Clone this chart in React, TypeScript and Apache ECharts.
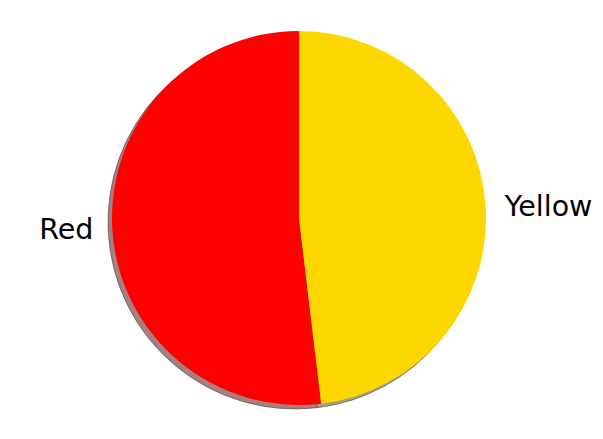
import React, { useEffect, useRef } from "react";
import * as echarts from "echarts";

const categories = ["Red", "Yellow"];
const values = [51.9, 48.1];
const colors = ["#ff0000", "#ffd700"];
const shadowColors = ["#a68080", "#a6a080"];

export default function App() {
  const ref = useRef<HTMLDivElement>(null);
  useEffect(() => {
    if (!ref.current) return;
    const chart = echarts.init(ref.current, undefined, { renderer: "svg" });
    const cx = 299;
    const cy = 218;
    const r = 187;
    const data = categories.map((name, i) => ({ name, value: values[i] }));
    chart.setOption({
      animation: false,
      backgroundColor: "#ffffff",
      series: [
        {
          type: "pie",
          silent: true,
          center: [cx - 4, cy + 4],
          radius: [0, r],
          startAngle: 90,
          clockwise: false,
          label: { show: false },
          labelLine: { show: false },
          data: data.map((d, i) => ({
            ...d,
            itemStyle: { color: shadowColors[i], borderColor: "rgba(90,60,60,0.6)", borderWidth: 1 },
          })),
        },
        {
          type: "pie",
          center: [cx, cy],
          radius: [0, r],
          startAngle: 90,
          clockwise: false,
          avoidLabelOverlap: false,
          itemStyle: { borderWidth: 0 },
          label: {
            show: true,
            position: "outside",
            formatter: "{b}",
            fontFamily: "DejaVu Sans",
            fontSize: 28.5,
            color: "#000000",
          },
          labelLine: { show: false, length: 14, length2: 0 },
          emphasis: { disabled: true },
          data: data.map((d, i) => ({ ...d, itemStyle: { color: colors[i] } })),
        },
      ],
    });
    return () => chart.dispose();
  }, []);
  return (
    <div
      ref={ref}
      style={{ position: "fixed", left: 0, top: 0, width: 603, height: 439 }}
    />
  );
}
